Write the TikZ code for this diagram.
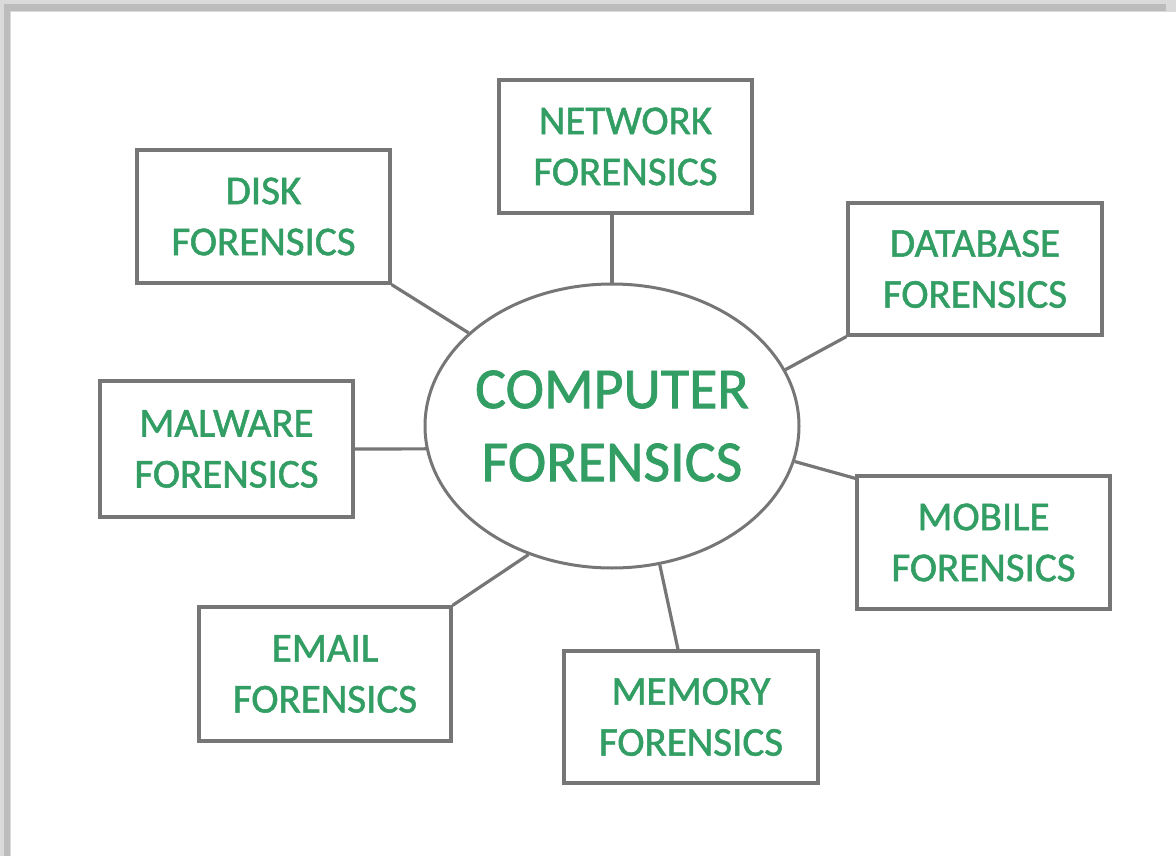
\documentclass[tikz,border=0pt]{standalone}
\usepackage{fontspec}
\setmainfont{Carlito}
\newfontfamily\labelfont{Carlito}[FakeBold=1.3]
\usetikzlibrary{shapes.geometric,calc}
\definecolor{txtgreen}{RGB}{50,158,100}
\definecolor{edgegray}{RGB}{118,118,118}
\definecolor{frameA}{RGB}{218,218,218}
\definecolor{frameB}{RGB}{188,188,188}
\tikzset{
  fbox/.style={draw=edgegray, line width=3.2pt, fill=white, rectangle, align=center,
    text=txtgreen, font=\labelfont\fontsize{41}{51}\selectfont, inner sep=0pt},
  hub/.style={draw=edgegray, line width=3pt, fill=white, ellipse, align=center,
    text=txtgreen, font=\labelfont\fontsize{58}{73}\selectfont, inner ysep=0pt, inner xsep=-6pt,
    minimum width=374pt, minimum height=284pt},
  link/.style={draw=edgegray, line width=3.2pt}
}
\begin{document}
\begin{tikzpicture}[x=1pt,y=-1pt]
\useasboundingbox (0,0) rectangle (1176,856);
% frame shadow bands
\fill[frameA] (0,0) rectangle (1176,12);
\fill[frameA] (0,0) rectangle (11,856);
\fill[frameB] (4,4) rectangle (1166,11);
\fill[frameB] (4,4) rectangle (10,856);

\node[hub] (center) at (612,426) {COMPUTER\\FORENSICS};

\node[fbox, minimum width=253pt, minimum height=133pt] (disk) at (263.5,216.5) {DISK\\FORENSICS};
\node[fbox, minimum width=253pt, minimum height=133pt] (network) at (625.5,146.5) {NETWORK\\FORENSICS};
\node[fbox, minimum width=254pt, minimum height=132pt] (database) at (975,269) {DATABASE\\FORENSICS};
\node[fbox, minimum width=253pt, minimum height=136pt] (malware) at (226.5,449) {MALWARE\\FORENSICS};
\node[fbox, minimum width=253pt, minimum height=133pt] (mobile) at (983.5,542.5) {MOBILE\\FORENSICS};
\node[fbox, minimum width=252pt, minimum height=134pt] (email) at (325,674) {EMAIL\\FORENSICS};
\node[fbox, minimum width=254pt, minimum height=132pt] (memory) at (691,717) {MEMORY\\FORENSICS};

\coordinate (netend) at (center.north |- network.south);
\coordinate (mobend) at ($(mobile.north west)+(0,4)$);
\coordinate (memend) at ($(memory.north)+(-13,0)$);

\draw[link] (disk.south east) -- (center.147.7);
\draw[link] (netend) -- (center.north);
\draw[link] (database.south west) -- (center.18.8);
\draw[link] (malware.east) -- (center.187.7);
\draw[link] (mobend) -- (center.-11);
\draw[link] (email.north east) -- (center.237);
\draw[link] (memend) -- (center.-71.7);
\end{tikzpicture}
\end{document}
